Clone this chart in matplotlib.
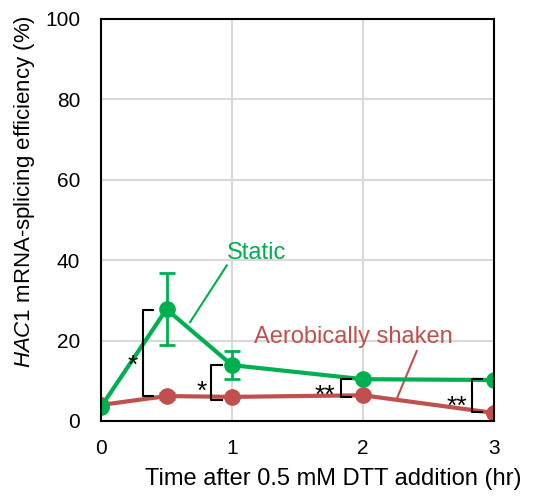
import numpy as np
import matplotlib
matplotlib.use("Agg")
import matplotlib.pyplot as plt

plt.rcParams['font.family'] = ['Liberation Sans', 'DejaVu Sans']
plt.rcParams['mathtext.fontset'] = 'custom'
plt.rcParams['mathtext.rm'] = 'Liberation Sans'
plt.rcParams['mathtext.it'] = 'Liberation Sans:italic'

# data
time_hr = [0, 0.5, 1, 2, 3]
static = [3.5, 27.8, 13.9, 10.4, 10.2]
static_err = [0, 8.9, 3.5, 0, 0]
shaken = [4.0, 6.2, 6.0, 6.4, 2.0]
shaken_err = [0, 0.8, 0, 0, 0]

# significance brackets: x, low, high, label, label x, label y
brk_x = [0.32, 0.84, 1.83, 2.83]
brk_lo = [6.2, 5.2, 6.0, 2.2]
brk_hi = [27.5, 13.9, 10.4, 10.4]
brk_txt = ['*', '*', '**', '**']
brk_tx = [0.24, 0.77, 1.71, 2.72]
brk_ty = [13.8, 7.3, 6.2, 3.6]

GREEN = '#00B050'
RED = '#C0504D'

fig = plt.figure(figsize=(5.36, 4.98), dpi=100)
ax = fig.add_axes([101/536, 1 - 421/498, 393/536, 402/498])

ax.errorbar(time_hr, shaken, yerr=shaken_err, color=RED, lw=3, marker='o',
            ms=11, capsize=6, capthick=2, elinewidth=2, zorder=3)
ax.errorbar(time_hr, static, yerr=static_err, color=GREEN, lw=3, marker='o',
            ms=11, capsize=6, capthick=2, elinewidth=2, zorder=4)

for x, lo, hi, t, tx, ty in zip(brk_x, brk_lo, brk_hi, brk_txt, brk_tx, brk_ty):
    ax.plot([x + 0.08, x, x, x + 0.08], [hi, hi, lo, lo], color='black', lw=1.5,
            zorder=5, clip_on=False)
    ax.text(tx, ty, t, fontsize=19, ha='center', va='center', zorder=6)

ax.text(1.19, 41.7, 'Static', color=GREEN, fontsize=17, ha='center', va='center')
ax.plot([0.96, 0.68], [38.7, 24.6], color=GREEN, lw=1.5)
ax.text(1.93, 20.8, 'Aerobically shaken', color=RED, fontsize=17,
        ha='center', va='center')
ax.plot([2.41, 2.26], [17.4, 5.7], color=RED, lw=1.5)

ax.set_xlim(0, 3)
ax.set_ylim(0, 100)
ax.set_xticks([0, 1, 2, 3])
ax.set_yticks(range(0, 101, 20))
ax.grid(True, color='#d9d9d9', lw=1.5)
ax.set_axisbelow(True)
ax.tick_params(length=0, labelsize=15)
ax.tick_params(axis='x', pad=13)
ax.tick_params(axis='y', pad=15)
for s in ax.spines.values():
    s.set_linewidth(1.5)
    s.set_zorder(7)

ax.set_xlabel('Time after 0.5 mM DTT addition (hr)', fontsize=17, labelpad=7,
              x=0.59)
ax.set_ylabel(r'$\it{HAC1}$ mRNA-splicing efficiency (%)', fontsize=16,
              labelpad=6, y=0.57)

fig.savefig('out.png', dpi=100)
